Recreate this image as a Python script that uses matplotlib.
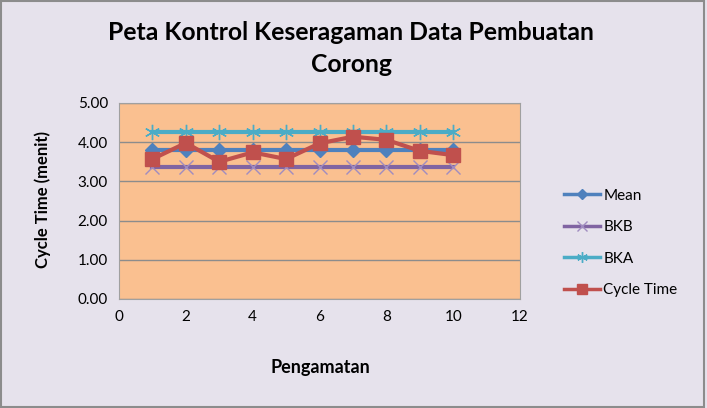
import numpy as np
import matplotlib.pyplot as plt
from matplotlib.patches import Rectangle

# data
pengamatan = [1, 2, 3, 4, 5, 6, 7, 8, 9, 10]
cycle_time = [3.57, 3.98, 3.50, 3.74, 3.57, 3.97, 4.14, 4.06, 3.78, 3.67]
mean_val = [3.80] * 10
bkb = [3.37] * 10
bka = [4.25] * 10

plt.rcParams['font.family'] = ['Lato', 'DejaVu Sans']

fig = plt.figure(figsize=(7.07, 4.08), dpi=100, facecolor='#E6E2EC')
fig.patches.append(Rectangle((0.002, 0.003), 0.994, 0.994, transform=fig.transFigure,
                             fill=False, edgecolor='#8C8C8C', linewidth=1.5))

ax = fig.add_axes([119 / 707, 1 - 299 / 408, 401 / 707, 196 / 408])
ax.set_facecolor('#FAC090')

ax.plot(pengamatan, bka, color='#4BACC6', linewidth=3, marker=(6, 2, 0), markersize=11,
        markeredgecolor='#4BACC6', markeredgewidth=1, label='BKA', zorder=3)
ax.plot(pengamatan, mean_val, color='#4F81BD', linewidth=3, marker='D', markersize=7,
        label='Mean', zorder=3)
ax.plot(pengamatan, bkb, color='#8064A2', linewidth=3, marker='x', markersize=10,
        markeredgecolor='#A08CC0', markeredgewidth=1, label='BKB', zorder=3)
ax.plot(pengamatan, cycle_time, color='#C0504D', linewidth=3, marker='s', markersize=10,
        label='Cycle Time', zorder=4)

ax.set_xlim(0, 12)
ax.set_ylim(0, 5)
ax.set_xticks(np.arange(0, 13, 2))
ax.set_yticks(np.arange(0, 5.01, 1))
ax.set_yticklabels([f'{v:.2f}' for v in np.arange(0, 5.01, 1)])
ax.tick_params(labelsize=11, length=0, pad=8)
ax.grid(axis='y', color='#8C8C8C', linewidth=1)
ax.set_axisbelow(True)
for s in ax.spines.values():
    s.set_color('#A0A0A0')

fig.text(0.497, 1 - 33 / 408, 'Peta Kontrol Keseragaman Data Pembuatan', ha='center', va='center',
         fontsize=17.8, fontweight='bold')
fig.text(0.497, 1 - 65 / 408, 'Corong', ha='center', va='center', fontsize=17.8, fontweight='bold')
fig.text(43 / 707, 1 - 200 / 408, 'Cycle Time (menit)', rotation=90, ha='center', va='center',
         fontsize=12, fontweight='bold')
fig.text(320 / 707, 1 - 367 / 408, 'Pengamatan', ha='center', va='center', fontsize=13, fontweight='bold')

handles, labels = ax.get_legend_handles_labels()
order = [1, 2, 0, 3]
leg = fig.legend([handles[i] for i in order], [labels[i] for i in order],
                 loc='center left', bbox_to_anchor=(550 / 707, 1 - 243 / 408),
                 frameon=False, fontsize=11, labelspacing=1.15, handlelength=2.4,
                 handletextpad=0.2, markerscale=0.7)
for ln in leg.get_lines():
    ln.set_linewidth(2.5)

plt.savefig('out.png', dpi=100, facecolor=fig.get_facecolor())
